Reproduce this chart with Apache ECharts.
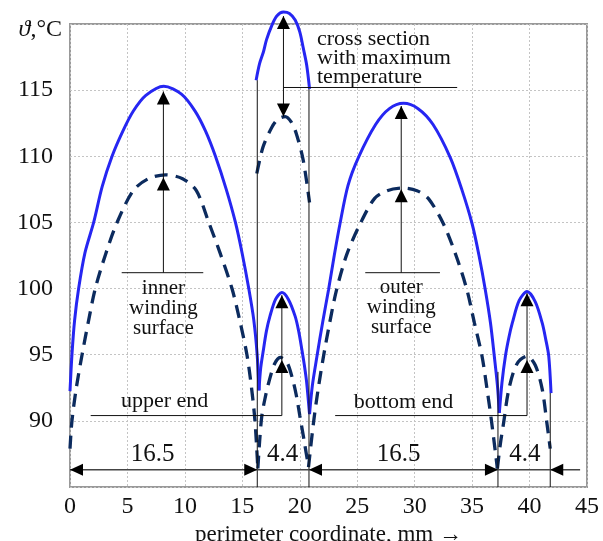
<!DOCTYPE html>
<html><head><meta charset="utf-8">
<script src="https://cdn.jsdelivr.net/npm/echarts/dist/echarts.min.js"></script>
<style>html,body{margin:0;padding:0;background:#fff}#c{width:603px;height:541px}</style>
</head><body><div id="c"></div>
<script>
// ---- axis ticks ----
const xTicks = [0, 5, 10, 15, 20, 25, 30, 35, 40, 45];
const yTicks = [90, 95, 100, 105, 110, 115];

// ---- solid curves (winding surface temperature) [x mm, theta °C] ----
const solidInner = [[0,92.25],[0.17,95],[0.4,97.6],[0.75,100],[1.3,102.7],[2.06,105],[2.8,107.7],[3.66,110],[4.6,111.9],[5.5,113.4],[6.6,114.6],[8.16,115.3],[9.7,114.7],[10.9,113.4],[11.8,111.9],[12.66,110],[13.6,107.5],[14.4,105],[15.0,102.6],[15.56,100],[16.0,97.6],[16.29,95],[16.45,92.3]];
const solidUpper = [[16.45,92.3],[16.6,94],[16.84,95.4],[17.1,96.8],[17.4,97.9],[17.9,99.2],[18.44,99.7],[19.0,99.2],[19.6,97.9],[19.9,96.8],[20.18,95.4],[20.4,94.2],[20.6,92.9],[20.85,90.5]];
const solidOuter = [[20.85,90.5],[21.1,92.7],[21.5,94.9],[22.0,97.5],[22.5,99.9],[23.0,102.5],[23.5,104.9],[24.2,107.8],[25.1,109.9],[26.6,112.4],[27.8,113.6],[29.03,114.0],[30.3,113.6],[31.6,112.4],[33.1,109.9],[34.1,107.5],[35.0,104.9],[35.6,102.5],[36.15,99.9],[36.6,97.4],[36.93,94.9],[37.2,92.7],[37.37,90.6]];
const solidBottom = [[37.37,90.6],[37.6,92.9],[37.9,94.9],[38.2,96.3],[38.5,97.4],[39.1,99.1],[39.78,99.77],[40.5,99.0],[41.1,97.4],[41.4,96.2],[41.67,94.9],[41.87,92.1]];
const solidMax = [[16.2,115.75],[16.5,117.0],[16.84,117.9],[17.1,118.8],[17.57,119.9],[18.0,120.6],[18.58,120.9],[19.1,120.8],[19.6,120.3],[20.0,119.4],[20.3,118.2],[20.6,116.9],[20.85,115.1]];

// ---- dashed curves ----
const dashInner = [[0,87.9],[0.17,90],[0.55,92.5],[1.05,95],[1.6,97.5],[2.2,100],[3.1,102.6],[4.1,105],[5.5,107.4],[6.8,108.3],[8.3,108.6],[9.8,108.3],[11.0,107.4],[12.08,105],[13.1,102.6],[14.1,100],[14.8,97.5],[15.4,95],[15.8,92.5],[16.1,90],[16.35,86.4]];
const dashUpper = [[16.35,86.4],[16.5,88.4],[16.7,90.4],[17.0,91.8],[17.3,92.9],[17.8,94.3],[18.3,94.8],[18.9,94.4],[19.45,92.9],[19.75,91.7],[20.0,90.4],[20.4,88.4],[20.76,86.5]];
const dashOuter = [[20.76,86.5],[21.2,89.9],[21.6,92.4],[22.07,94.9],[22.6,97.4],[23.2,99.9],[24.1,102.6],[25.26,104.9],[26.5,106.8],[27.6,107.4],[28.9,107.6],[30.2,107.4],[31.2,106.8],[32.5,104.9],[33.6,102.5],[34.55,99.9],[35.2,97.4],[35.86,94.9],[36.3,92.4],[36.7,89.9],[37.2,86.4]];
const dashBottom = [[37.2,86.4],[37.45,88.2],[37.75,89.9],[38.2,92.4],[38.9,94.3],[39.78,94.9],[40.5,94.2],[41.1,92.4],[41.5,89.9],[41.8,87.9]];
const dashMax = [[16.26,108.7],[16.8,110.7],[17.57,112.2],[18.1,112.8],[18.73,113.0],[19.25,112.6],[19.7,111.7],[20.3,109.7],[20.85,106.5]];

// ---- annotations (data coordinates) ----
const sectionBounds = [[16.3,115.75],[20.8,115.1],[37.25,93.7],[41.8,92.1]]; // vertical lines down to axis bottom
const dimY = 86.3, dimStart = 0, dimEnd = 44.4;
const dimArrows = [[0,'left'],[16.3,'right'],[20.8,'left'],[37.25,'right'],[41.8,'left']];
const dimLabels = [['16.5',7.2],['4.4',18.5],['16.5',28.6],['4.4',39.6]];
const dimLabelY = 87.45;
const thinLines = [
  [[8.13,101.2],[8.13,114.9]], [[4.5,101.2],[11.6,101.2]],
  [[28.83,101.2],[28.83,113.8]], [[25.7,101.2],[32.2,101.2]],
  [[18.58,113.0],[18.58,120.6]], [[18.58,115.2],[33.7,115.2]],
  [[18.44,90.4],[18.44,99.5]], [[1.8,90.4],[18.44,90.4]],
  [[39.78,90.4],[39.78,99.65]], [[23.08,90.4],[39.78,90.4]]
];
const arrowTips = [
  [8.13,114.9,'up'],[8.13,108.4,'up'],[28.83,113.8,'up'],[28.83,107.5,'up'],
  [18.58,120.6,'up'],[18.58,113.0,'down'],
  [18.44,99.5,'up'],[18.44,94.6,'up'],[39.78,99.65,'up'],[39.78,94.6,'up']
];
const notes = [
  ['cross section\nwith maximum\ntemperature', 21.5, 117.4, 'left', 22, 19],
  ['inner\nwinding\nsurface', 8.13, 98.5, 'center', 21, 20],
  ['outer\nwinding\nsurface', 28.83, 98.6, 'center', 21, 20],
  ['upper end', 8.23, 91.5, 'center', 22, 22],
  ['bottom end', 29.03, 91.4, 'center', 22, 22]
];

const FONT = '"Liberation Serif", "Times New Roman", serif';
const SOLID = '#2626f2', DASH = '#0c2b5e';

function solidSeries(d, clip){ return {type:'line', data:d, showSymbol:false, smooth:0.3, clip:clip!==false, lineStyle:{color:SOLID, width:3}, z:3, silent:true}; }
function dashSeries(d){ return {type:'line', data:d, showSymbol:false, smooth:0.3, lineStyle:{color:DASH, width:3.3, type:[13,8]}, z:2, silent:true}; }

const chart = echarts.init(document.getElementById('c'), null, {renderer:'canvas'});
chart.setOption({
  animation:false,
  backgroundColor:'#fff',
  textStyle:{fontFamily:FONT, color:'#111'},
  grid:{left:70, right:16, top:24, bottom:54, containLabel:false, outerBoundsMode:'none',
    show:true, borderColor:'#999', borderWidth:2, backgroundColor:'transparent'},
  xAxis:{type:'value', min:xTicks[0], max:xTicks[xTicks.length-1], interval:5,
    axisLine:{show:false}, axisTick:{show:false},
    axisLabel:{fontSize:24, color:'#111', fontFamily:FONT, margin:8},
    splitLine:{show:true, lineStyle:{color:'#c4c4c4', type:[2,2], width:1}},
    name:'perimeter coordinate, mm \u2192', nameLocation:'middle', nameGap:33,
    nameTextStyle:{fontSize:23, color:'#111', fontFamily:FONT}},
  yAxis:{type:'value', min:85, max:120, interval:5,
    axisLine:{show:false}, axisTick:{show:false},
    axisLabel:{fontSize:24, color:'#111', fontFamily:FONT, margin:17, showMinLabel:false, showMaxLabel:false},
    splitLine:{show:true, lineStyle:{color:'#c4c4c4', type:[2,2], width:1}},
    name:'{i|\u03D1},°C', nameLocation:'end', nameGap:-6,
    nameTextStyle:{fontSize:24, color:'#111', fontFamily:FONT, align:'right', verticalAlign:'middle', padding:[0,8,0,0],
      rich:{i:{fontStyle:'italic', fontSize:24, fontFamily:FONT, color:'#111'}}}},
  series:[
    dashSeries(dashInner), dashSeries(dashUpper), dashSeries(dashOuter), dashSeries(dashBottom), dashSeries(dashMax),
    solidSeries(solidInner), solidSeries(solidUpper), solidSeries(solidOuter), solidSeries(solidBottom), solidSeries(solidMax, false)
  ]
});

function P(x,y){ return chart.convertToPixel({gridIndex:0},[x,y]); }
const els = [];
const bottomY = 85;
function line(a,b,w,c){ els.push({type:'line', z:10, shape:{x1:a[0],y1:a[1],x2:b[0],y2:b[1]}, style:{stroke:c||'#111', lineWidth:w||1}}); }
function tri(tip, dir, L, W){
  const [x,y] = tip; let pts;
  if(dir==='up') pts=[[x,y],[x-W,y+L],[x+W,y+L]];
  else if(dir==='down') pts=[[x,y],[x-W,y-L],[x+W,y-L]];
  else if(dir==='left') pts=[[x,y],[x+L,y-W],[x+L,y+W]];
  else pts=[[x,y],[x-L,y-W],[x-L,y+W]];
  els.push({type:'polygon', z:11, shape:{points:pts}, style:{fill:'#000'}});
}
sectionBounds.forEach(s=>line(P(s[0],s[1]),P(s[0],bottomY),1,'#111'));
line(P(dimStart,dimY),P(dimEnd,dimY),1.4,'#444');
dimArrows.forEach(a=>tri(P(a[0],dimY),a[1],13,6));
dimLabels.forEach(l=>{const p=P(l[1],dimLabelY); els.push({type:'text', z:12, style:{text:l[0], x:p[0], y:p[1], font:'25px '+FONT, fill:'#111', textAlign:'center', textVerticalAlign:'middle', align:'center', verticalAlign:'middle'}});});
thinLines.forEach(s=>line(P(s[0][0],s[0][1]),P(s[1][0],s[1][1]),1,'#111'));
arrowTips.forEach(a=>tri(P(a[0],a[1]),a[2],13,6.5));
notes.forEach(n=>{const p=P(n[1],n[2]); els.push({type:'text', z:12, style:{text:n[0], x:p[0], y:p[1], font:n[4]+'px '+FONT, lineHeight:n[5], fill:'#111', textAlign:n[3], textVerticalAlign:'middle', align:n[3], verticalAlign:'middle'}});});
chart.setOption({graphic:{elements:els}});
</script></body></html>
